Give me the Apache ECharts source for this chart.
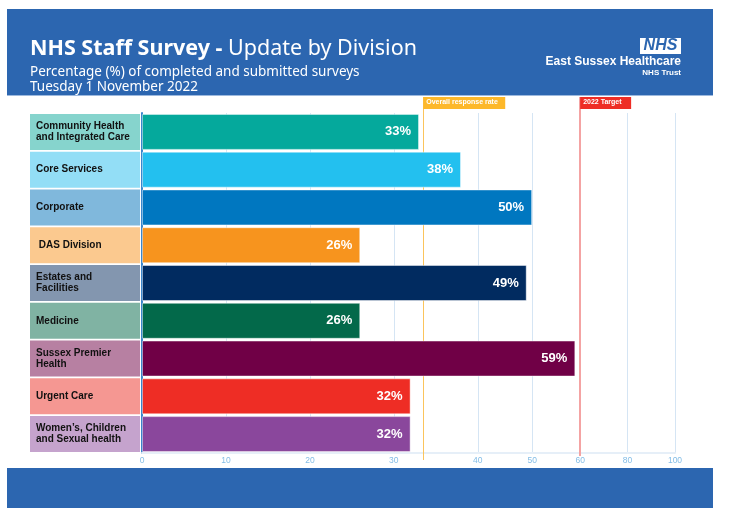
<!DOCTYPE html>
<html>
<head>
<meta charset="utf-8">
<script src="https://cdn.jsdelivr.net/npm/echarts@6/dist/echarts.min.js"></script>
<style>
  html, body { margin: 0; padding: 0; background: #fff; }
  #chart { width: 732px; height: 524px; }
</style>
</head>
<body>
<div id="chart"></div>
<script>
// survey response by division (%)
var divisions = [
  'Community Health\nand Integrated Care',
  'Core Services',
  'Corporate',
  ' DAS Division',
  'Estates and\nFacilities',
  'Medicine',
  'Sussex Premier\nHealth',
  'Urgent Care',
  'Women\u2019s, Children\nand Sexual health'
];
var responseRates = [33, 38, 50, 26, 49, 26, 59, 32, 32];
var barColors = ['#05A99C', '#23C0EF', '#0077C0', '#F7941E', '#012B60', '#03694A', '#700046', '#EE2D25', '#8A479C'];
var boxColors = ['#86D4CD', '#93DEF6', '#80B8DC', '#FBC98F', '#8396AF', '#80B3A3', '#B780A2', '#F59792', '#C5A3CD'];
var tickValues = [0, 10, 20, 30, 40, 50, 60, 80, 100];
var overallRate = 33.5;
var targetRate = 60;

// the printed axis is squeezed after 40, values go through this piecewise scale
var scaleIn = [0, 40, 50, 60, 100];
var scaleOut = [0, 63.0, 73.2, 82.2, 100];
function toAxis(v) {
  for (var i = 1; i < scaleIn.length; i++) {
    if (v <= scaleIn[i]) {
      var t = (v - scaleIn[i - 1]) / (scaleIn[i] - scaleIn[i - 1]);
      return scaleOut[i - 1] + t * (scaleOut[i] - scaleOut[i - 1]);
    }
  }
  return 100;
}
function tickLabel(pos) {
  for (var i = 0; i < tickValues.length; i++) {
    if (Math.abs(toAxis(tickValues[i]) - pos) < 0.01) return String(tickValues[i]);
  }
  return '';
}

var chart = echarts.init(document.getElementById('chart'));

var barData = [];
var boxData = [];
for (var i = 0; i < divisions.length; i++) {
  barData.push({
    value: toAxis(responseRates[i]),
    rate: responseRates[i],
    itemStyle: { color: barColors[i] }
  });
  boxData.push({ value: 1, itemStyle: { color: boxColors[i] } });
}
var tickPos = tickValues.map(toAxis);

var option = {
  backgroundColor: '#ffffff',
  animation: false,
  title: [
    {
      left: 25, top: 33,
      text: '{b|NHS Staff Survey - }{r|Update by Division}',
      textStyle: {
        rich: {
          b: { fontFamily: 'Noto Sans', fontWeight: 'bold', fontSize: 21.5, color: '#fff' },
          r: { fontFamily: 'Noto Sans', fontWeight: 'normal', fontSize: 21.5, color: '#fff' }
        }
      }
    },
    {
      left: 25, top: 60,
      text: 'Percentage (%) of completed and submitted surveys',
      textStyle: { fontFamily: 'Noto Sans', fontWeight: 'normal', fontSize: 13.5, color: '#fff' }
    },
    {
      left: 25, top: 75,
      text: 'Tuesday 1 November 2022',
      textStyle: { fontFamily: 'Noto Sans', fontWeight: 'normal', fontSize: 13.5, color: '#fff' }
    }
  ],
  graphic: [
    { type: 'rect', z: -10, shape: { x: 7, y: 9, width: 706, height: 86 }, style: { fill: '#2C66B0' } },
    { type: 'rect', z: -10, shape: { x: 7, y: 95, width: 706, height: 1 }, style: { fill: '#9DB9DE' } },
    { type: 'rect', z: -10, shape: { x: 7, y: 468, width: 706, height: 40 }, style: { fill: '#2C66B0' } },
    { type: 'rect', shape: { x: 640, y: 38, width: 41, height: 16 }, style: { fill: '#fff' } },
    { type: 'text', x: 660.5, y: 46, style: { text: 'NHS', fill: '#2C66B0', font: 'italic bold 16px "Liberation Sans"', align: 'center', verticalAlign: 'middle' } },
    { type: 'text', x: 681, y: 62, style: { text: 'East Sussex Healthcare', fill: '#fff', font: 'bold 12px "Liberation Sans"', align: 'right', verticalAlign: 'middle' } },
    { type: 'text', x: 681, y: 73, style: { text: 'NHS Trust', fill: '#fff', font: 'bold 8px "Liberation Sans"', align: 'right', verticalAlign: 'middle' } }
  ],
  grid: [
    { left: 142, width: 533, top: 113, height: 340, containLabel: false },
    { left: 30, width: 110, top: 113, height: 340, containLabel: false }
  ],
  xAxis: [
    {
      gridIndex: 0, type: 'value', min: 0, max: 100,
      axisLine: { show: true, lineStyle: { color: '#E6EFF8', width: 2 } },
      axisTick: { show: false, customValues: tickPos },
      axisLabel: {
        customValues: tickPos,
        formatter: function (v) { return tickLabel(v); },
        color: '#84BDE6', fontSize: 8.5, fontFamily: 'Liberation Sans', margin: 3
      },
      splitLine: { show: true, lineStyle: { color: '#D5E5F4', width: 1 } }
    },
    {
      gridIndex: 1, type: 'value', min: 0, max: 1, show: false
    }
  ],
  yAxis: [
    {
      gridIndex: 0, type: 'category', data: divisions, inverse: true,
      axisLine: { show: true, lineStyle: { color: '#3A86CC', width: 2 } },
      axisTick: { show: false },
      axisLabel: { show: false },
      splitLine: { show: false }
    },
    {
      gridIndex: 1, type: 'category', data: divisions, inverse: true, show: false
    }
  ],
  series: [
    {
      // reference lines sit behind the bars
      type: 'line',
      xAxisIndex: 0, yAxisIndex: 0,
      data: [],
      markLine: {
        silent: true, symbol: ['none', 'none'], label: { show: false },
        data: [
          [{ xAxis: toAxis(overallRate), y: 97, lineStyle: { color: '#FBC45C', width: 1, type: 'solid' } },
           { xAxis: toAxis(overallRate), y: 460 }],
          [{ xAxis: toAxis(targetRate), y: 97, lineStyle: { color: '#F4A3A3', width: 2, type: 'solid' } },
           { xAxis: toAxis(targetRate), y: 456 }]
        ]
      },
      markPoint: {
        silent: true, symbol: 'rect', symbolSize: 0,
        data: [
          {
            xAxis: toAxis(overallRate), y: 97,
            label: {
              show: true, position: [0, 0], align: 'left', verticalAlign: 'top',
              formatter: 'Overall response rate', backgroundColor: '#FDB82A',
              color: '#fff', fontFamily: 'Liberation Sans', fontWeight: 'bold', fontSize: 7,
              width: 76, height: 8, padding: [2, 3, 2, 3]
            }
          },
          {
            xAxis: toAxis(targetRate), y: 97,
            label: {
              show: true, position: [0, 0], align: 'left', verticalAlign: 'top',
              formatter: '2022 Target', backgroundColor: '#EE2D25',
              color: '#fff', fontFamily: 'Liberation Sans', fontWeight: 'bold', fontSize: 7,
              width: 45, height: 8, padding: [2, 3, 2, 3]
            }
          }
        ]
      }
    },
    {
      type: 'bar',
      xAxisIndex: 0, yAxisIndex: 0,
      zlevel: 1,
      data: barData,
      barWidth: 36,
      itemStyle: { borderColor: 'rgba(255,255,255,0.45)', borderWidth: 1 },
      label: {
        show: true, position: 'insideRight', distance: 8,
        color: '#fff', fontFamily: 'Liberation Sans', fontWeight: 'bold', fontSize: 13,
        formatter: function (p) { return p.data.rate + '%'; }
      }
    },
    {
      type: 'bar',
      xAxisIndex: 1, yAxisIndex: 1,
      data: boxData,
      barWidth: 36,
      silent: true,
      label: {
        show: true, position: 'insideLeft', distance: 6,
        color: '#111', fontFamily: 'Liberation Sans', fontWeight: 'bold', fontSize: 10, lineHeight: 11,
        formatter: function (p) { return p.name; }
      }
    }
  ]
};

chart.setOption(option);
</script>
</body>
</html>
